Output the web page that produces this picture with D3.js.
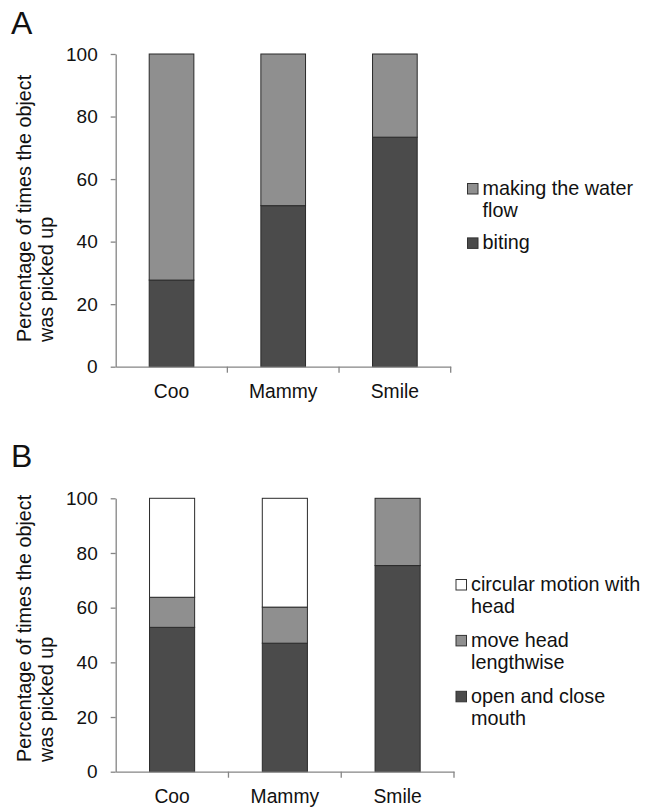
<!DOCTYPE html>
<html>
<head>
<meta charset="utf-8">
<script src="https://cdn.jsdelivr.net/npm/d3@7"></script>
<style>
  html, body { margin: 0; padding: 0; background: #fff; }
  svg { display: block; font-family: "Liberation Sans", Arial, sans-serif; }
</style>
</head>
<body>
<svg id="chart" width="651" height="807"></svg>
<script>
// ---- Data ----
const categories = ["Coo", "Mammy", "Smile"];
const yTicks = [0, 20, 40, 60, 80, 100];
const yTitleLines = ["Percentage of times the object", "was picked up"];

// Panel A (bottom to top)
const aKeys = ["biting", "water"];
const aBiting = [27.7, 51.5, 73.4];
const aWater = [72.3, 48.5, 26.6];
const aLegendLabels = [["making the water", "flow"], ["biting"]];
const aLegendKeys = ["water", "biting"];

// Panel B (bottom to top)
const bKeys = ["open", "move", "circular"];
const bOpenClose = [52.8, 47.0, 75.4];
const bMoveHead = [11.0, 13.2, 24.6];
const bCircular = [36.2, 39.8, 0];
const bLegendLabels = [["circular motion with", "head"], ["move head", "lengthwise"], ["open and close", "mouth"]];
const bLegendKeys = ["circular", "move", "open"];

const colors = { biting: "#4b4b4b", water: "#8f8f8f", open: "#4b4b4b", move: "#8f8f8f", circular: "#ffffff" };

const svg = d3.select("#chart");
const textColor = "#111";
const axisColor = "#858585";

function drawPanel(cfg) {
  const g = svg.append("g");
  const rows = categories.map((c, i) => {
    const r = { cat: c };
    cfg.keys.forEach((k, j) => r[k] = cfg.series[j][i]);
    return r;
  });
  const stacked = d3.stack().keys(cfg.keys)(rows);

  const x = d3.scaleBand().domain(categories).range([cfg.x0, cfg.x1]).padding(0);
  const y = d3.scaleLinear().domain([0, 100]).range([cfg.yBottom, cfg.yTop]);
  const barW = x.bandwidth() * 0.4;

  // bars
  stacked.forEach(layer => {
    g.selectAll(null).data(layer).enter().append("rect")
      .attr("x", d => x(d.data.cat) + (x.bandwidth() - barW) / 2)
      .attr("y", d => y(d[1]))
      .attr("width", barW)
      .attr("height", d => Math.max(0, y(d[0]) - y(d[1])))
      .attr("fill", colors[layer.key])
      .attr("stroke", "#2a2a2a")
      .attr("stroke-width", 1)
      .attr("display", d => (d[1] - d[0]) > 0 ? null : "none");
  });

  // y axis
  const yAxis = d3.axisLeft(y).tickValues(yTicks).tickSize(5).tickSizeOuter(0).tickPadding(13);
  const ya = g.append("g").attr("transform", `translate(${cfg.x0},0)`).call(yAxis);
  ya.select(".domain").attr("stroke", axisColor).attr("stroke-width", 1.3);
  ya.selectAll(".tick line").attr("stroke", axisColor).attr("stroke-width", 1.3);
  ya.selectAll(".tick text").attr("fill", textColor).attr("font-size", 19)
    .attr("font-family", "Liberation Sans, Arial, sans-serif");

  // x axis (labels)
  const xAxis = d3.axisBottom(x).tickSize(0).tickSizeOuter(0).tickPadding(18);
  const xa = g.append("g").attr("transform", `translate(0,${cfg.yBottom})`).call(xAxis);
  xa.select(".domain").attr("stroke", axisColor).attr("stroke-width", 1.3);
  xa.selectAll(".tick text").attr("fill", textColor).attr("font-size", 19.3)
    .attr("font-family", "Liberation Sans, Arial, sans-serif");
  // boundary ticks
  xa.selectAll(".bound").data(categories).enter().append("line")
    .attr("x1", d => x(d) + x.bandwidth()).attr("x2", d => x(d) + x.bandwidth())
    .attr("y1", 0).attr("y2", 6)
    .attr("stroke", axisColor).attr("stroke-width", 1.3);

  // y title
  const t = g.append("text")
    .attr("transform", `translate(0,${cfg.titleStart}) rotate(-90)`)
    .attr("font-size", 19.8).attr("fill", textColor).attr("text-anchor", "start");
  yTitleLines.forEach((line, i) => {
    t.append("tspan").attr("x", 0).attr("y", i === 0 ? 31 : 53).text(line);
  });

  // panel letter
  g.append("text").attr("x", 11).attr("y", cfg.letterY)
    .attr("font-size", 32).attr("fill", textColor).text(cfg.letter);

  // legend
  let ly = cfg.legendY;
  cfg.legendKeys.forEach((k, i) => {
    const lines = cfg.legendLabels[i];
    g.append("rect").attr("x", cfg.legendX).attr("y", ly - 11.5)
      .attr("width", 10.5).attr("height", 10.5)
      .attr("fill", colors[k]).attr("stroke", "#333").attr("stroke-width", 1);
    const tt = g.append("text").attr("font-size", 19.8).attr("fill", textColor);
    lines.forEach((ln, j) => {
      tt.append("tspan").attr("x", cfg.legendX + 15).attr("y", ly + j * 21.7).text(ln);
    });
    ly += lines.length * 21.7 + cfg.legendGap;
  });
}

drawPanel({
  letter: "A", letterY: 34,
  keys: aKeys, series: [aBiting, aWater],
  x0: 115.7, x1: 450.7, yBottom: 366.7, yTop: 54,
  titleStart: 342,
  legendX: 467.5, legendY: 195, legendKeys: aLegendKeys, legendLabels: aLegendLabels, legendGap: 11
});

drawPanel({
  letter: "B", letterY: 467,
  keys: bKeys, series: [bOpenClose, bMoveHead, bCircular],
  x0: 115.7, x1: 454, yBottom: 771.7, yTop: 498.3,
  titleStart: 762,
  legendX: 456, legendY: 591, legendKeys: bLegendKeys, legendLabels: bLegendLabels, legendGap: 12.5
});
</script>
</body>
</html>
